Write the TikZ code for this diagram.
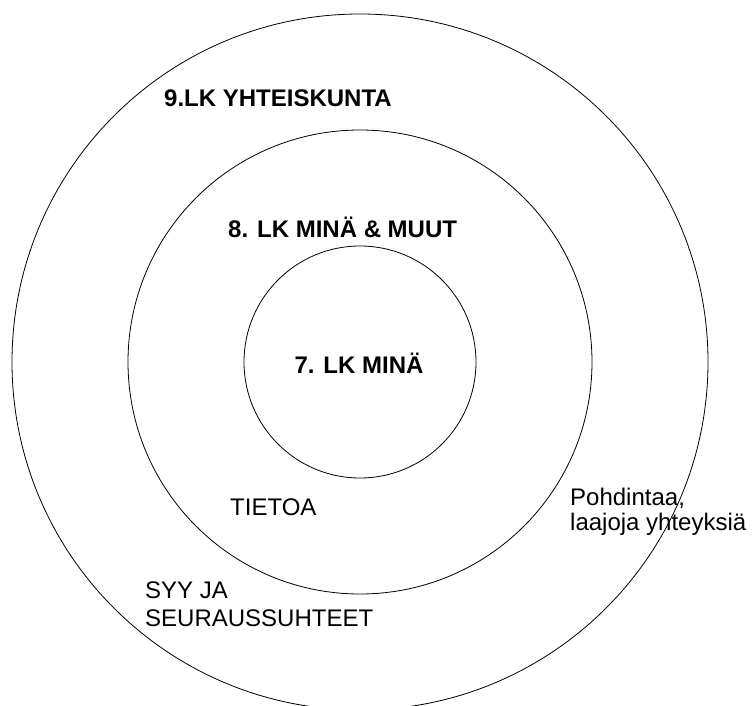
\documentclass[tikz,border=0pt]{standalone}
\usepackage{fontspec}
\setmainfont{Liberation Sans}
\usetikzlibrary{positioning}

\begin{document}
\begin{tikzpicture}[x=1pt,y=-1pt,
  ring/.style={draw,circle,line width=0.8pt,inner sep=0pt,outer sep=0pt},
  level/.style={font=\fontsize{24}{26}\selectfont\bfseries,inner sep=0pt},
  note/.style={font=\fontsize{24}{26}\selectfont,inner sep=0pt}]
\useasboundingbox (0,0) rectangle (755,706);
\coordinate (c) at (360,362);
% three rings round one centre
\node[ring,minimum size=696pt] (outer) at (c) {};
\node[ring,minimum size=464pt] (middle) at (c) {};
\node[ring,minimum size=232pt] (inner) at (c) {};
% grade labels
\node[level,anchor=base west] (grade9) at (164,107) {9.LK YHTEISKUNTA};
\node[level,anchor=base west] (grade8) at (228,237) {8. LK MINÄ \& MUUT};
\node[level,anchor=base] (grade7) at (359,373) {7. LK MINÄ};
% notes
\node[note,anchor=base west] (tietoa) at (230,515) {TIETOA};
\node[note,anchor=base west] (pohd) at (570,505) {Pohdintaa,};
\node[note,anchor=base west] (laajoja) at (570,530) {laajoja yhteyksiä};
\node[note,anchor=base west] (syy) at (145,598) {SYY JA};
\node[note,anchor=base west] (seuraus) at (145,626) {SEURAUSSUHTEET};
\end{tikzpicture}
\end{document}
